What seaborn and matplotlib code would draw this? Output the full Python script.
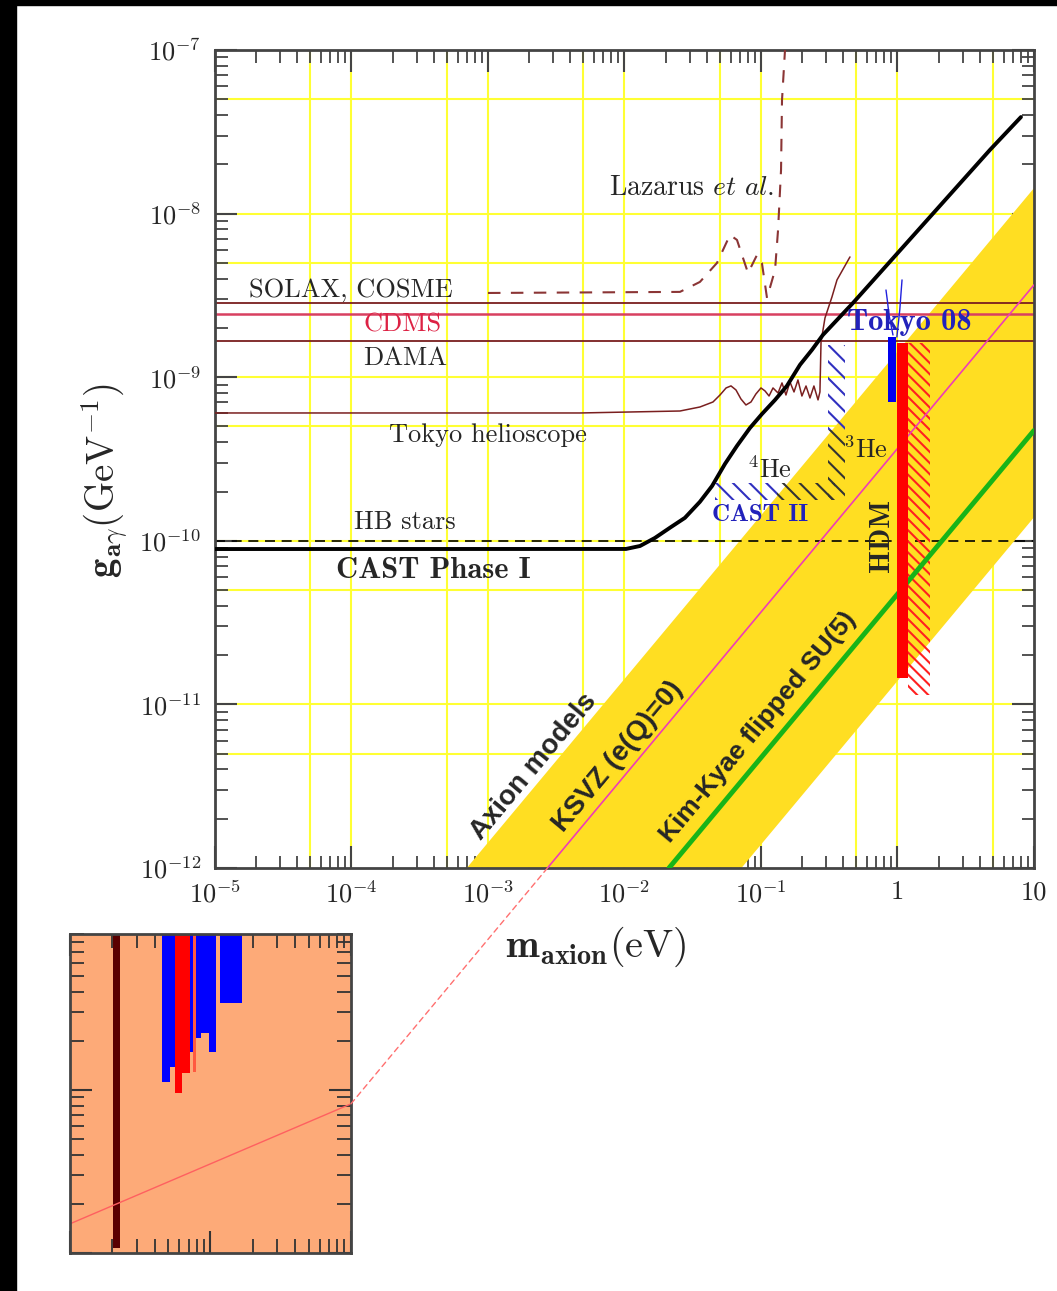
import numpy as np
import matplotlib
matplotlib.use("Agg")
import matplotlib.pyplot as plt
import seaborn as sns
from matplotlib.patches import ConnectionPatch, Rectangle
from matplotlib.ticker import LogLocator, NullFormatter

# ---------------------------------------------------------------------------
# values (m in eV, g in GeV^-1)
# ---------------------------------------------------------------------------
X_TICKS = [1e-5, 1e-4, 1e-3, 1e-2, 1e-1, 1, 10]
X_TICKLABELS = [r"$10^{-5}$", r"$10^{-4}$", r"$10^{-3}$", r"$10^{-2}$",
                r"$10^{-1}$", "1", "10"]
Y_TICKS = [1e-12, 1e-11, 1e-10, 1e-9, 1e-8, 1e-7]
Y_TICKLABELS = [r"$10^{-12}$", r"$10^{-11}$", r"$10^{-10}$", r"$10^{-9}$",
                r"$10^{-8}$", r"$10^{-7}$"]
GRID_X = [5e-5, 1e-4, 5e-4, 1e-3, 5e-3, 1e-2, 5e-2, 1e-1, 5e-1, 1, 5]
GRID_Y = [5e-12, 1e-11, 5e-11, 1e-10, 5e-10, 1e-9, 5e-9, 1e-8, 5e-8]

# axion model band and model lines
BAND_UPPER_M = [7.0e-4, 10.0]
BAND_UPPER_G = [1e-12, 1.43e-8]
BAND_LOWER_M = [7.2e-2, 10.0]
BAND_LOWER_G = [1e-12, 1.39e-10]
KSVZ_M = [2.73e-3, 10.0]
KSVZ_G = [1e-12, 3.66e-9]
KIMKYAE_M = [2.12e-2, 10.0]
KIMKYAE_G = [1e-12, 4.72e-10]

# CAST phase I limit
CAST_M = [1e-5, 0.01026, 0.0130, 0.0167, 0.0215, 0.0277, 0.0357, 0.0438,
          0.0545, 0.0667, 0.0830, 0.1016, 0.1268, 0.1549, 0.1932, 0.2366,
          0.284, 0.472, 4.76, 8.03]
CAST_G = [8.9e-11, 8.91e-11, 9.29e-11, 1.04e-10, 1.20e-10, 1.38e-10, 1.73e-10,
          2.16e-10, 2.95e-10, 3.80e-10, 4.89e-10, 5.95e-10, 7.26e-10, 8.84e-10,
          1.19e-9, 1.47e-9, 1.81e-9, 2.84e-9, 2.45e-8, 3.89e-8]

# Tokyo helioscope
TOKYO_M = [1e-5, 4.72e-3, 0.0255, 0.0357, 0.0445, 0.0501, 0.0555, 0.0603,
           0.0656, 0.0713, 0.0776, 0.0845, 0.0918, 0.1000, 0.107, 0.1146,
           0.1225, 0.1334, 0.1426, 0.1524, 0.163, 0.1746, 0.1866, 0.1995,
           0.2138, 0.2286, 0.2443, 0.2618, 0.2704, 0.2754, 0.2944, 0.3311,
           0.3606, 0.4487]
TOKYO_G = [6.04e-10, 6.04e-10, 6.21e-10, 6.57e-10, 7.05e-10, 7.78e-10,
           8.59e-10, 8.84e-10, 8.35e-10, 7.36e-10, 6.76e-10, 7.05e-10,
           7.89e-10, 8.59e-10, 8.24e-10, 7.67e-10, 8.59e-10, 8.00e-10,
           9.22e-10, 7.78e-10, 9.35e-10, 8.12e-10, 9.61e-10, 7.67e-10,
           8.83e-10, 7.46e-10, 8.83e-10, 7.26e-10, 8.12e-10, 1.64e-9,
           2.30e-9, 3.09e-9, 3.93e-9, 5.43e-9]

# Lazarus et al.
LAZARUS_M = [1e-3, 0.0255, 0.0357, 0.0476, 0.0593, 0.0667, 0.0804, 0.0936,
             0.1016, 0.1107, 0.1268, 0.1334, 0.1403, 0.1426, 0.150, 0.155]
LAZARUS_G = [3.27e-9, 3.32e-9, 3.82e-9, 4.99e-9, 7.40e-9, 6.90e-9, 4.33e-9,
             5.59e-9, 4.99e-9, 3.05e-9, 4.52e-9, 7.94e-9, 1.85e-8, 4.94e-8,
             1.0e-7, 1.5e-7]

# horizontal limits
SOLAX_G = 2.84e-9
CDMS_G = 2.43e-9
DAMA_G = 1.66e-9
HB_G = 1.0e-10

# CAST II hatched strips (blue part, part over the band)
HE4_BLUE_M = [0.046, 0.131]
HE4_DARK_M = [0.131, 0.348]
HE4_G = [1.78e-10, 2.26e-10]
HE3_M = [0.31, 0.41]
HE3_BLUE_G = [4.76e-10, 1.57e-9]
HE3_DARK_G = [1.78e-10, 4.76e-10]

# Tokyo 08
TOKYO08_M = [0.852, 0.98]
TOKYO08_G = [7.05e-10, 1.76e-9]
TOKYO08_A_M = [0.824, 0.845, 0.867, 0.927]
TOKYO08_A_G = [3.41e-9, 2.9e-9, 2.40e-9, 1.81e-9]
TOKYO08_B_M = [1.08, 1.06, 1.04, 0.99]
TOKYO08_B_G = [3.93e-9, 3.2e-9, 2.58e-9, 1.76e-9]

# HDM
HDM_M = [1.0, 1.19]
HDM_G = [1.45e-11, 1.62e-9]
HDM_HATCH_M = [1.19, 1.73]
HDM_HATCH_G = [1.14e-11, 1.62e-9]

# inset (zoomed piece, arbitrary log units)
INSET_TOP = 9.0
INSET_BLUE_LEFT = [0.454, 0.518, 0.72, 0.794, 0.863, 0.984, 1.16]
INSET_BLUE_RIGHT = [0.518, 0.562, 0.78, 0.863, 0.984, 1.10, 1.69]
INSET_BLUE_BOTTOM = [1.12, 1.38, 1.71, 2.08, 2.24, 1.71, 3.42]
INSET_RED_LEFT = [0.562, 0.562]
INSET_RED_RIGHT = [0.72, 0.631]
INSET_RED_BOTTOM = [1.27, 0.96]
INSET_SALMON_LEFT = [0.756]
INSET_SALMON_RIGHT = [0.794]
INSET_SALMON_BOTTOM = [1.29]
INSET_DARK_LEFT = [0.203]
INSET_DARK_RIGHT = [0.228]
INSET_DARK_BOTTOM = [0.107]
INSET_LINE_X = [0.1, 10.0]
INSET_LINE_Y = [0.151, 0.82]

# ---------------------------------------------------------------------------
sns.set_theme(style="ticks")
plt.rcParams["font.family"] = ["cmr10", "DejaVu Serif"]
plt.rcParams["mathtext.fontset"] = "cm"
plt.rcParams["axes.unicode_minus"] = False
plt.rcParams["hatch.linewidth"] = 1.5

FS = 19
YELLOW = "#ffde22"
BROWN = "#7a1f1f"

fig = plt.figure(figsize=(10.57, 12.91), dpi=100)
fig.patch.set_facecolor("white")
ax = fig.add_axes([0.2034, 0.3277, 0.7748, 0.6336])
ax.set_xscale("log")
ax.set_yscale("log")
ax.set_xlim(1e-5, 10)
ax.set_ylim(1e-12, 1e-7)

for gx in GRID_X:
    ax.axvline(gx, color="#ffff33", lw=1.5, zorder=0.5)
for gy in GRID_Y:
    ax.axhline(gy, color="#ffff33", lw=1.5, zorder=0.5)

# axion band
ax.fill(np.r_[BAND_UPPER_M, BAND_LOWER_M[::-1]],
        np.r_[BAND_UPPER_G, BAND_LOWER_G[::-1]],
        color=YELLOW, lw=0, zorder=1)

# horizontal limits
ax.axhline(SOLAX_G, color=BROWN, lw=1.3, zorder=2)
ax.axhline(CDMS_G, color="#d84060", lw=1.8, zorder=2)
ax.axhline(DAMA_G, color=BROWN, lw=1.3, zorder=2)
ax.axhline(HB_G, color="black", lw=1.2, ls=(0, (6, 4)), zorder=2)

# hatched regions
ax.fill_between(HE4_BLUE_M, HE4_G[0], HE4_G[1], facecolor="none",
                edgecolor="#3030c0", hatch="\\\\", lw=0, zorder=2)
ax.fill_between(HE4_DARK_M, HE4_G[0], HE4_G[1], facecolor="none",
                edgecolor="#333333", hatch="\\\\", lw=0, zorder=2)
ax.fill_betweenx(HE3_BLUE_G, HE3_M[0], HE3_M[1], facecolor="none",
                 edgecolor="#3030c0", hatch="\\\\", lw=0, zorder=2)
ax.fill_betweenx(HE3_DARK_G, HE3_M[0], HE3_M[1], facecolor="none",
                 edgecolor="#333333", hatch="\\\\", lw=0, zorder=2)
ax.fill_betweenx(HDM_HATCH_G, HDM_HATCH_M[0], HDM_HATCH_M[1], facecolor="none",
                 edgecolor="#ff2020", hatch="\\\\\\", lw=0, zorder=2)

# model lines
sns.lineplot(x=KSVZ_M, y=KSVZ_G, ax=ax, color="#ee3cb8", lw=1.2,
             estimator=None, sort=False, zorder=3)
sns.lineplot(x=KIMKYAE_M, y=KIMKYAE_G, ax=ax, color="#18b418", lw=3.5,
             estimator=None, sort=False, zorder=3)

# experimental curves
sns.lineplot(x=TOKYO_M, y=TOKYO_G, ax=ax, color=BROWN, lw=1.1,
             estimator=None, sort=False, zorder=3)
sns.lineplot(x=LAZARUS_M, y=LAZARUS_G, ax=ax, color="#8b3535", lw=1.5,
             ls=(0, (6, 5)), estimator=None, sort=False, zorder=3)
sns.lineplot(x=CAST_M, y=CAST_G, ax=ax, color="black", lw=2.8,
             estimator=None, sort=False, zorder=4)

# Tokyo 08 and HDM
ax.fill_between(TOKYO08_M, TOKYO08_G[0], TOKYO08_G[1], color="#0000ee",
                lw=0, zorder=4)
sns.lineplot(x=TOKYO08_A_M, y=TOKYO08_A_G, ax=ax, color="#2020dd", lw=1.0,
             estimator=None, sort=False, zorder=4)
sns.lineplot(x=TOKYO08_B_M, y=TOKYO08_B_G, ax=ax, color="#2020dd", lw=1.0,
             estimator=None, sort=False, zorder=4)
ax.fill_between(HDM_M, HDM_G[0], HDM_G[1], color="#ff0000", lw=0, zorder=4)

# labels
ax.text(0.0313, 1.43e-8, r"Lazarus $\mathit{et\ al.}$", fontsize=20,
        ha="center", va="center", zorder=5)
ax.text(9.9e-5, 3.41e-9, "SOLAX, COSME", fontsize=FS, ha="center",
        va="center", zorder=5)
ax.text(2.38e-4, 2.08e-9, "CDMS", fontsize=FS, color="#dd2244",
        ha="center", va="center", zorder=5)
ax.text(2.46e-4, 1.31e-9, "DAMA", fontsize=FS, ha="center", va="center",
        zorder=5)
ax.text(1.0e-3, 4.43e-10, "Tokyo helioscope", fontsize=FS, ha="center",
        va="center", zorder=5)
ax.text(2.46e-4, 1.30e-10, "HB stars", fontsize=FS, ha="center",
        va="center", zorder=5)
ax.text(3.96e-4, 6.54e-11, "CAST Phase I", fontsize=22, family="cmb10",
        ha="center", va="center", zorder=5)
ax.text(0.116, 2.71e-10, r"$^{4}\mathrm{He}$", fontsize=FS, ha="center",
        va="center", zorder=5)
ax.text(0.578, 3.59e-10, r"$^{3}\mathrm{He}$", fontsize=FS, ha="center",
        va="center", zorder=5)
ax.text(0.0984, 1.44e-10, "CAST II", fontsize=18, family="cmb10",
        color="#2222bb", ha="center", va="center", zorder=5)
ax.text(1.23, 2.17e-9, "Tokyo 08", fontsize=22, family="cmb10",
        color="#2222bb", ha="center", va="center", zorder=5)
ax.text(0.769, 1.08e-10, "HDM", fontsize=21, family="cmb10", rotation=90,
        ha="center", va="center", zorder=5)

SANS = dict(family="Liberation Sans", fontweight="bold",
            rotation=50.2, ha="center", va="center", zorder=5,
            rotation_mode="anchor")
ax.text(2.17e-3, 4.14e-12, "Axion models", fontsize=20, **SANS)
ax.text(9.0e-3, 4.8e-12, "KSVZ (e(Q)=0)", fontsize=20, **SANS)
ax.text(0.0951, 7.28e-12, "Kim-Kyae flipped SU(5)", fontsize=19, **SANS)

# axes styling
ax.set_xticks(X_TICKS)
ax.set_xticklabels(X_TICKLABELS, fontsize=FS)
ax.set_yticks(Y_TICKS)
ax.set_yticklabels(Y_TICKLABELS, fontsize=FS)
ax.xaxis.set_minor_locator(LogLocator(base=10, subs=np.arange(2, 10), numticks=30))
ax.yaxis.set_minor_locator(LogLocator(base=10, subs=np.arange(2, 10), numticks=30))
ax.xaxis.set_minor_formatter(NullFormatter())
ax.yaxis.set_minor_formatter(NullFormatter())
ax.tick_params(which="both", direction="in", top=True, right=True,
               color="#444444")
ax.tick_params(which="major", length=16, width=1.5)
ax.tick_params(which="minor", length=9, width=1.3)
ax.tick_params(axis="y", pad=10)
ax.tick_params(axis="x", pad=9)
for sp in ax.spines.values():
    sp.set_linewidth(2)
    sp.set_color("#444444")
ax.set_xlabel(r"$\mathbf{m_{axion}}(\mathrm{eV})$", fontsize=29)
ax.set_ylabel(r"$\mathbf{g}_{\mathbf{a}\gamma}(\mathrm{GeV}^{\mathbf{-1}})$",
              fontsize=28)
ax.xaxis.set_label_coords(0.465, -0.070)
ax.yaxis.set_label_coords(-0.104, 0.474)

# inset
ax_in = fig.add_axes([0.0662, 0.0294, 0.2658, 0.2471])
ax_in.set_xscale("log")
ax_in.set_yscale("log")
ax_in.set_xlim(0.1, 10)
ax_in.set_ylim(0.1, INSET_TOP)
ax_in.set_facecolor("#fdaa78")
ax_in.bar(INSET_DARK_LEFT, INSET_TOP - np.array(INSET_DARK_BOTTOM),
          width=np.subtract(INSET_DARK_RIGHT, INSET_DARK_LEFT),
          bottom=INSET_DARK_BOTTOM, align="edge", color="#5a0000", lw=0)
ax_in.bar(INSET_BLUE_LEFT, INSET_TOP - np.array(INSET_BLUE_BOTTOM),
          width=np.subtract(INSET_BLUE_RIGHT, INSET_BLUE_LEFT),
          bottom=INSET_BLUE_BOTTOM, align="edge", color="#0000ff", lw=0)
ax_in.bar(INSET_RED_LEFT, INSET_TOP - np.array(INSET_RED_BOTTOM),
          width=np.subtract(INSET_RED_RIGHT, INSET_RED_LEFT),
          bottom=INSET_RED_BOTTOM, align="edge", color="#ff0000", lw=0)
ax_in.bar(INSET_SALMON_LEFT, INSET_TOP - np.array(INSET_SALMON_BOTTOM),
          width=np.subtract(INSET_SALMON_RIGHT, INSET_SALMON_LEFT),
          bottom=INSET_SALMON_BOTTOM, align="edge", color="#ff5a40", lw=0)
sns.lineplot(x=INSET_LINE_X, y=INSET_LINE_Y, ax=ax_in, color="#ff6060",
             lw=1.0, estimator=None, sort=False)
ax_in.xaxis.set_minor_locator(LogLocator(base=10, subs=np.arange(2, 10), numticks=30))
ax_in.yaxis.set_minor_locator(LogLocator(base=10, subs=np.arange(2, 10), numticks=30))
ax_in.tick_params(which="both", direction="in", top=True, right=True,
                  labelbottom=False, labelleft=False, color="#333333")
ax_in.tick_params(which="major", length=16, width=1.5)
ax_in.tick_params(which="minor", length=10, width=1.3)
ax_in.xaxis.set_major_formatter(NullFormatter())
ax_in.yaxis.set_major_formatter(NullFormatter())
ax_in.xaxis.set_minor_formatter(NullFormatter())
ax_in.yaxis.set_minor_formatter(NullFormatter())
for sp in ax_in.spines.values():
    sp.set_linewidth(2)
    sp.set_color("#444444")

# dashed continuation of the KSVZ line down into the inset
con = ConnectionPatch(xyA=(INSET_LINE_X[1], INSET_LINE_Y[1]), coordsA=ax_in.transData,
                      xyB=(KSVZ_M[0], KSVZ_G[0]), coordsB=ax.transData,
                      color="#ff7070", lw=1.0, ls=(0, (4, 3)))
fig.add_artist(con)

# black frame strips (top and left)
fig.add_artist(Rectangle((0, 0), 16 / 1057, 1, transform=fig.transFigure,
                         color="black", zorder=10))
fig.add_artist(Rectangle((0, 1 - 5 / 1291), 1, 5 / 1291,
                         transform=fig.transFigure, color="black", zorder=10))

fig.savefig("out.png", dpi=100)
plt.close(fig)
